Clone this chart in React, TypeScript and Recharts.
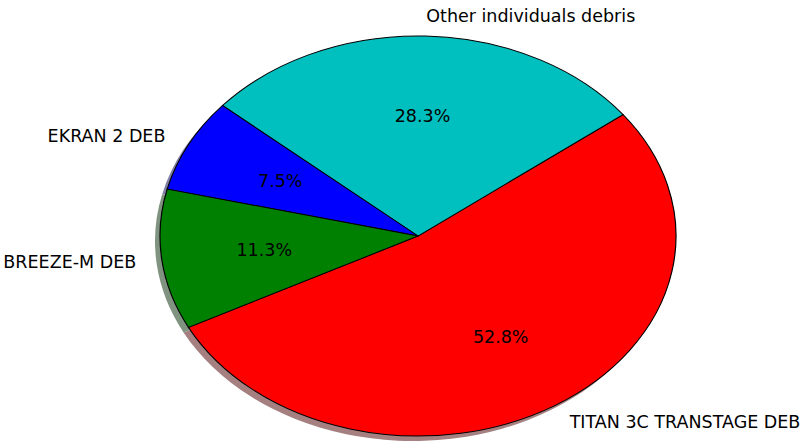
import React from 'react';
import { Cell, Pie, PieChart } from 'recharts';

const labels = ['TITAN 3C TRANSTAGE DEB', 'Other individuals debris', 'EKRAN 2 DEB', 'BREEZE-M DEB'];
const counts = [28, 15, 4, 6];
const colors = ['#ff0000', '#00bfbf', '#0000ff', '#008000'];
const shadowColors = ['#a68080', '#80a6a6', '#8080a6', '#809380'];

const data = labels.map((name, i) => ({ name, value: counts[i] }));

const W = 808;
const H = 444;
const CX = 418;
const CY = 236;
const RX = 258;
const RY = 200;
const K = RY / RX;
const START = 207.2;
const FONT = '"DejaVu Sans", sans-serif';
const FS = 17.5;

// the slice layer is drawn as a circle in a taller svg, then squashed
const HH = 2 * RX + 40;
const ICY = HH / 2;

const RADIAN = Math.PI / 180;

const renderLabel = (props: any) => {
  const { midAngle, percent, name, index } = props;
  const c = Math.cos(-midAngle * RADIAN);
  const s = Math.sin(-midAngle * RADIAN);
  const lx = CX + 1.1 * RX * c;
  const ly = CY + 1.1 * RY * s;
  const px = CX + 0.6 * RX * c;
  const py = CY + 0.6 * RY * s;
  return (
    <g key={`lbl-${index}`}>
      <text
        x={lx}
        y={ly}
        textAnchor={c > 0 ? 'start' : 'end'}
        dominantBaseline="central"
        fontSize={FS}
        fontFamily={FONT}
        fill="#000"
      >
        {name}
      </text>
      <text
        x={px}
        y={py}
        textAnchor="middle"
        dominantBaseline="central"
        fontSize={FS}
        fontFamily={FONT}
        fill="#000"
      >
        {`${(percent * 100).toFixed(1)}%`}
      </text>
    </g>
  );
};

const layer: React.CSSProperties = { position: 'absolute', left: 0, top: 0, width: W, height: H };

export default function App() {
  return (
    <div style={{ ...layer, background: '#fff', overflow: 'hidden' }}>
      <div
        style={{
          position: 'absolute',
          left: 0,
          top: CY - ICY,
          width: W,
          height: HH,
          transform: `scaleY(${K})`,
          transformOrigin: `0px ${ICY}px`,
        }}
      >
        <PieChart width={W} height={HH} margin={{ top: 0, right: 0, bottom: 0, left: 0 }}>
          <Pie
            data={data}
            dataKey="value"
            cx={CX - 5}
            cy={ICY + 5 / K}
            outerRadius={RX}
            startAngle={START}
            endAngle={START + 360}
            stroke="none"
            label={false}
            labelLine={false}
            isAnimationActive={false}
          >
            {data.map((d, i) => (
              <Cell key={d.name} fill={shadowColors[i]} />
            ))}
          </Pie>
          <Pie
            data={data}
            dataKey="value"
            cx={CX}
            cy={ICY}
            outerRadius={RX}
            startAngle={START}
            endAngle={START + 360}
            stroke="#000"
            strokeWidth={1.2}
            label={false}
            labelLine={false}
            isAnimationActive={false}
          >
            {data.map((d, i) => (
              <Cell key={d.name} fill={colors[i]} vectorEffect="non-scaling-stroke" />
            ))}
          </Pie>
        </PieChart>
      </div>
      <div style={layer}>
        <PieChart width={W} height={H} margin={{ top: 0, right: 0, bottom: 0, left: 0 }}>
          <Pie
            data={data}
            dataKey="value"
            cx={CX}
            cy={CY}
            outerRadius={RX}
            startAngle={START}
            endAngle={START + 360}
            fill="none"
            stroke="none"
            label={renderLabel}
            labelLine={false}
            isAnimationActive={false}
          >
            {data.map((d) => (
              <Cell key={d.name} fill="none" stroke="none" />
            ))}
          </Pie>
        </PieChart>
      </div>
    </div>
  );
}
